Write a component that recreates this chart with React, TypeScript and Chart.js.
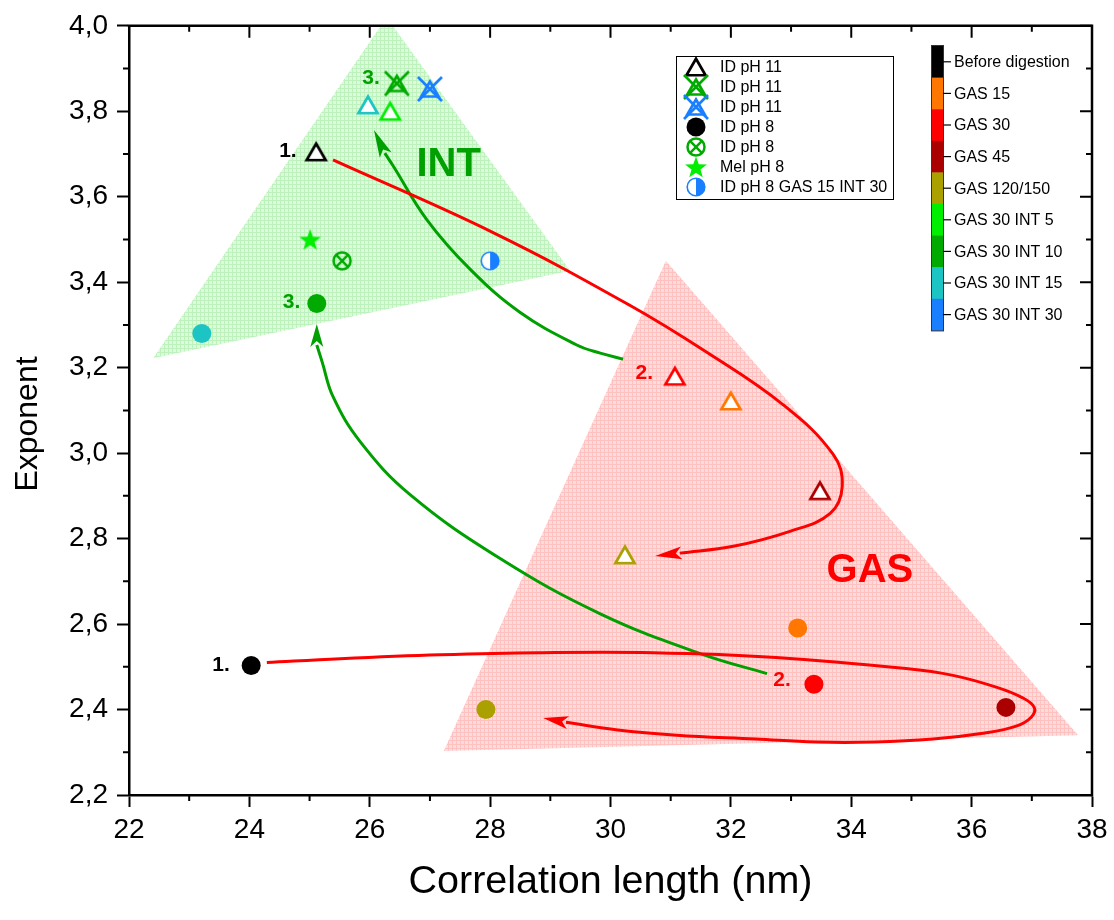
import React, { useEffect, useRef } from "react";
import { Chart, registerables } from "chart.js";

Chart.register(...registerables);

const FONT = "'Liberation Sans', Arial, Helvetica, sans-serif";

// ---------- axes ----------
const xMin = 22;
const xMax = 38;
const xStep = 2;
const yMin = 2.2;
const yMax = 4.0;
const yStep = 0.2;
const xTitle = "Correlation length (nm)";
const yTitle = "Exponent";

// ---------- colour scale (digestion stage) ----------
const stageNames = [
  "Before digestion",
  "GAS 15",
  "GAS 30",
  "GAS 45",
  "GAS 120/150",
  "GAS 30 INT 5",
  "GAS 30 INT 10",
  "GAS 30 INT 15",
  "GAS 30 INT 30",
];
const stageColors = [
  "#000000",
  "#ff7700",
  "#ff0000",
  "#aa0000",
  "#aaa000",
  "#00ee00",
  "#00aa00",
  "#1cc4c4",
  "#1a7fff",
];

// ---------- series ----------
// ID pH 11 (open triangles)
const idPh11X = [25.11, 31.07, 32.0, 33.48, 30.24, 25.97, 26.34];
const idPh11Y = [3.705, 3.18, 3.122, 2.912, 2.762, 3.815, 3.8];
const idPh11Stage = [0, 2, 1, 3, 4, 7, 5];
// ID pH 11 (triangles with cross)
const idPh11XX = [26.45, 27.0];
const idPh11XY = [3.865, 3.852];
const idPh11XStage = [6, 8];
// ID pH 8 (filled circles)
const idPh8X = [24.03, 33.11, 33.38, 36.57, 27.93, 25.12, 23.21];
const idPh8Y = [2.503, 2.591, 2.459, 2.405, 2.4, 3.35, 3.28];
const idPh8Stage = [0, 1, 2, 3, 4, 6, 7];
// ID pH 8 (crossed circle)
const idPh8XX = [25.54];
const idPh8XY = [3.45];
const idPh8XStage = [6];
// Mel pH 8 (star)
const melX = [25.01];
const melY = [3.5];
const melStage = [5];
// ID pH 8 GAS 15 INT 30 (half circle)
const mixX = [28.0];
const mixY = [3.45];
const mixStage = [8];

// ---------- shaded regions ----------
const intRegionX = [22.4, 26.28, 29.33];
const intRegionY = [3.222, 4.02, 3.427];
const gasRegionX = [30.92, 37.77, 27.23];
const gasRegionY = [3.45, 2.34, 2.303];

// ---------- pathways (arrows) ----------
const redAX = [25.39, 28.05, 30.32, 31.6, 32.87, 33.7, 33.85, 33.65, 32.98, 32.04, 31.15];
const redAY = [3.686, 3.516, 3.346, 3.236, 3.113, 2.997, 2.922, 2.859, 2.817, 2.782, 2.766];
const redATip = [30.74, 2.759];

const redBX = [24.29, 25.51, 27.17, 28.81, 30.71, 32.75, 34.91, 35.69, 36.42, 36.84, 37.04, 36.99, 36.74, 36.22, 35.36, 34.38, 33.4, 32.42, 31.1, 30.12, 29.26];
const redBY = [2.51, 2.519, 2.528, 2.533, 2.533, 2.522, 2.496, 2.48, 2.452, 2.428, 2.405, 2.382, 2.361, 2.345, 2.331, 2.324, 2.324, 2.331, 2.34, 2.352, 2.37];
const redBTip = [28.88, 2.38];

const greenAX = [30.21, 29.83, 29.44, 28.5, 27.67, 26.95, 26.39, 26.25];
const greenAY = [3.22, 3.234, 3.253, 3.329, 3.43, 3.546, 3.672, 3.702];
const greenATip = [26.07, 3.756];

const greenBX = [32.6, 31.49, 29.83, 28.16, 26.67, 25.84, 25.39, 25.21, 25.12];
const greenBY = [2.484, 2.531, 2.624, 2.754, 2.903, 3.027, 3.132, 3.213, 3.253];
const greenBTip = [25.12, 3.302];

// ---------- annotations ----------
const noteText = ["1.", "1.", "2.", "2.", "3.", "3.", "INT", "GAS"];
const noteX = [24.64, 23.53, 30.56, 32.85, 26.02, 24.7, 27.31, 34.31];
const noteY = [3.707, 2.503, 3.187, 2.468, 3.877, 3.353, 3.674, 2.724];
const noteKind = [0, 0, 1, 1, 2, 2, 3, 4];

// ---------- legend ----------
const legendLabels = ["ID pH 11", "ID pH 11", "ID pH 11", "ID pH 8", "ID pH 8", "Mel pH 8", "ID pH 8 GAS 15 INT 30"];

// ===== styles =====
const noteStyles = [
  { color: "#000000", size: 21 },
  { color: "#ff0000", size: 21 },
  { color: "#00a000", size: 21 },
  { color: "#00a000", size: 40 },
  { color: "#ff0000", size: 40 },
];
const RED = "#ff0000";
const GREEN = "#00a000";

function makeCanvas(size: number) {
  const c = document.createElement("canvas");
  c.width = size;
  c.height = size;
  return c;
}

function triImage(color: string, withX: boolean) {
  const s = 30;
  const c = makeCanvas(s);
  const g = c.getContext("2d")!;
  const cx = s / 2;
  const cy = s / 2;
  const r = withX ? 10 : 11;
  g.lineWidth = 2.7;
  g.strokeStyle = color;
  g.beginPath();
  g.moveTo(cx, cy - 0.75 * r);
  g.lineTo(cx + 0.866 * r, cy + 0.75 * r);
  g.lineTo(cx - 0.866 * r, cy + 0.75 * r);
  g.closePath();
  if (!withX) {
    g.fillStyle = "#ffffff";
    g.fill();
  }
  g.stroke();
  if (withX) {
    const d = 12;
    g.beginPath();
    g.moveTo(cx - d, cy - d);
    g.lineTo(cx + d, cy + d);
    g.moveTo(cx + d, cy - d);
    g.lineTo(cx - d, cy + d);
    g.stroke();
  }
  return c;
}

function crossCircleImage(color: string) {
  const s = 26;
  const c = makeCanvas(s);
  const g = c.getContext("2d")!;
  const cx = s / 2;
  const cy = s / 2;
  const r = 8.5;
  g.lineWidth = 2.5;
  g.strokeStyle = color;
  g.beginPath();
  g.arc(cx, cy, r, 0, Math.PI * 2);
  g.stroke();
  const d = r * 0.707;
  g.beginPath();
  g.moveTo(cx - d, cy - d);
  g.lineTo(cx + d, cy + d);
  g.moveTo(cx + d, cy - d);
  g.lineTo(cx - d, cy + d);
  g.stroke();
  return c;
}

function starImage(color: string) {
  const s = 28;
  const c = makeCanvas(s);
  const g = c.getContext("2d")!;
  g.beginPath();
  for (let i = 0; i < 10; i++) {
    const r = i % 2 === 0 ? 11.5 : 4.7;
    const a = -Math.PI / 2 + (i * Math.PI) / 5;
    const px = s / 2 + r * Math.cos(a);
    const py = s / 2 + 1 + r * Math.sin(a);
    if (i === 0) g.moveTo(px, py);
    else g.lineTo(px, py);
  }
  g.closePath();
  g.fillStyle = color;
  g.fill();
  return c;
}

function halfImage(color: string) {
  const s = 24;
  const c = makeCanvas(s);
  const g = c.getContext("2d")!;
  const cx = s / 2;
  const cy = s / 2;
  const r = 8.8;
  g.beginPath();
  g.arc(cx, cy, r, 0, Math.PI * 2);
  g.fillStyle = "#ffffff";
  g.fill();
  g.beginPath();
  g.moveTo(cx, cy - r);
  g.arc(cx, cy, r, -Math.PI / 2, Math.PI / 2);
  g.closePath();
  g.fillStyle = color;
  g.fill();
  g.beginPath();
  g.arc(cx, cy, r, 0, Math.PI * 2);
  g.lineWidth = 1.6;
  g.strokeStyle = color;
  g.stroke();
  return c;
}

function hatch(bg: string, line: string) {
  const c = makeCanvas(4);
  const g = c.getContext("2d")!;
  g.fillStyle = bg;
  g.fillRect(0, 0, 4, 4);
  g.fillStyle = line;
  g.fillRect(0, 0, 4, 1);
  g.fillRect(0, 0, 1, 4);
  return c;
}

const pts = (xs: number[], ys: number[]) => xs.map((x, i) => ({ x, y: ys[i] }));

export default function App() {
  const ref = useRef<HTMLCanvasElement>(null);

  useEffect(() => {
    document.body.style.margin = "0";
    const canvas = ref.current!;
    const colorOf = (s: number) => stageColors[s];

    const triImgs = idPh11Stage.map((s) => triImage(colorOf(s), false));
    const triXImgs = idPh11XStage.map((s) => triImage(colorOf(s), true));
    const ccImgs = idPh8XStage.map((s) => crossCircleImage(colorOf(s)));
    const starImgs = melStage.map((s) => starImage(colorOf(s)));
    const halfImgs = mixStage.map((s) => halfImage(colorOf(s)));

    const legendImgs: (HTMLCanvasElement | string)[] = [
      triImage("#000000", false),
      triImage(stageColors[6], true),
      triImage(stageColors[8], true),
      "circle",
      crossCircleImage(stageColors[6]),
      starImage(stageColors[5]),
      halfImage(stageColors[8]),
    ];

    const pctx = canvas.getContext("2d")!;
    const greenFill = pctx.createPattern(hatch("#dcfbdc", "#bdf2bd"), "repeat")!;
    const redFill = pctx.createPattern(hatch("#ffdcdc", "#ffc0c0"), "repeat")!;

    const regions = [
      { xs: intRegionX, ys: intRegionY, fill: greenFill },
      { xs: gasRegionX, ys: gasRegionY, fill: redFill },
    ];
    const arrows = [
      { xs: redAX, ys: redAY, tip: redATip, color: RED },
      { xs: redBX, ys: redBY, tip: redBTip, color: RED },
      { xs: greenAX, ys: greenAY, tip: greenATip, color: GREEN },
      { xs: greenBX, ys: greenBY, tip: greenBTip, color: GREEN },
    ];

    const decor = {
      id: "decor",
      beforeDatasetsDraw(chart: any) {
        const { ctx, chartArea: a, scales } = chart;
        const sx = scales.x;
        const sy = scales.y;
        ctx.save();
        ctx.beginPath();
        ctx.rect(a.left, a.top, a.right - a.left, a.bottom - a.top);
        ctx.clip();
        for (const r of regions) {
          ctx.beginPath();
          r.xs.forEach((v, i) => {
            const px = sx.getPixelForValue(v);
            const py = sy.getPixelForValue(r.ys[i]);
            if (i === 0) ctx.moveTo(px, py);
            else ctx.lineTo(px, py);
          });
          ctx.closePath();
          ctx.fillStyle = r.fill;
          ctx.fill();
        }
        ctx.restore();
      },
      afterDatasetsDraw(chart: any) {
        const { ctx, scales } = chart;
        const sx = scales.x;
        const sy = scales.y;
        ctx.save();
        // arrow heads
        for (const ar of arrows) {
          const n = ar.xs.length - 1;
          const bx = sx.getPixelForValue(ar.xs[n]);
          const by = sy.getPixelForValue(ar.ys[n]);
          const tx = sx.getPixelForValue(ar.tip[0]);
          const ty = sy.getPixelForValue(ar.tip[1]);
          const L = Math.hypot(tx - bx, ty - by);
          const ux = (tx - bx) / L;
          const uy = (ty - by) / L;
          const nx = -uy;
          const ny = ux;
          const w = 6.5;
          ctx.beginPath();
          ctx.moveTo(tx, ty);
          ctx.lineTo(bx - ux * 2 + nx * w, by - uy * 2 + ny * w);
          ctx.lineTo(bx + ux * 4, by + uy * 4);
          ctx.lineTo(bx - ux * 2 - nx * w, by - uy * 2 - ny * w);
          ctx.closePath();
          ctx.fillStyle = ar.color;
          ctx.fill();
        }
        // notes
        ctx.textAlign = "center";
        ctx.textBaseline = "middle";
        noteText.forEach((t, i) => {
          const st = noteStyles[noteKind[i]];
          ctx.font = `bold ${st.size}px ${FONT}`;
          ctx.fillStyle = st.color;
          ctx.fillText(t, sx.getPixelForValue(noteX[i]), sy.getPixelForValue(noteY[i]));
        });
        ctx.restore();
      },
      afterDraw(chart: any) {
        const { ctx, chartArea: a, scales } = chart;
        const sx = scales.x;
        const sy = scales.y;
        ctx.save();
        // frame top/right
        ctx.strokeStyle = "#000";
        ctx.lineWidth = 2.5;
        ctx.beginPath();
        ctx.moveTo(a.left - 1.25, a.top);
        ctx.lineTo(a.right, a.top);
        ctx.lineTo(a.right, a.bottom + 1.25);
        ctx.stroke();
        ctx.lineWidth = 2;
        ctx.beginPath();
        const nx = Math.round((xMax - xMin) / (xStep / 2));
        for (let k = 0; k <= nx; k++) {
          const v = xMin + (k * xStep) / 2;
          const px = sx.getPixelForValue(v);
          const major = k % 2 === 0;
          const len = major ? 12 : 6;
          if (!major) {
            ctx.moveTo(px, a.bottom);
            ctx.lineTo(px, a.bottom + len);
          }
          ctx.moveTo(px, a.top);
          ctx.lineTo(px, a.top + len);
        }
        const ny = Math.round((yMax - yMin) / (yStep / 2));
        for (let k = 0; k <= ny; k++) {
          const v = yMin + (k * yStep) / 2;
          const py = sy.getPixelForValue(v);
          const major = k % 2 === 0;
          const len = major ? 12 : 6;
          if (!major) {
            ctx.moveTo(a.left, py);
            ctx.lineTo(a.left - len, py);
          }
          ctx.moveTo(a.right, py);
          ctx.lineTo(a.right - len, py);
        }
        ctx.stroke();

        // axis titles
        ctx.fillStyle = "#000";
        ctx.textAlign = "center";
        ctx.textBaseline = "alphabetic";
        ctx.font = `39.5px ${FONT}`;
        ctx.fillText(xTitle, (a.left + a.right) / 2, 893);
        ctx.save();
        ctx.translate(37, 424);
        ctx.rotate(-Math.PI / 2);
        ctx.font = `32px ${FONT}`;
        ctx.fillText(yTitle, 0, 0);
        ctx.restore();

        // legend box
        const lx = 676;
        const ly = 56;
        const lw = 217;
        const lh = 143;
        ctx.fillStyle = "#ffffff";
        ctx.fillRect(lx, ly, lw, lh);
        ctx.lineWidth = 1;
        ctx.strokeStyle = "#000";
        ctx.strokeRect(lx + 0.5, ly + 0.5, lw, lh);
        ctx.font = `16px ${FONT}`;
        ctx.textAlign = "left";
        ctx.textBaseline = "middle";
        legendLabels.forEach((lab, i) => {
          const cy = ly + 11 + i * 20;
          const img = legendImgs[i];
          if (typeof img === "string") {
            ctx.beginPath();
            ctx.arc(696, cy, 9.5, 0, Math.PI * 2);
            ctx.fillStyle = "#000";
            ctx.fill();
          } else {
            ctx.drawImage(img, 696 - img.width / 2, cy - img.height / 2);
          }
          ctx.fillStyle = "#000";
          ctx.fillText(lab, 720, cy + 1);
        });

        // colour bar
        const cbx = 932;
        const cby = 46;
        const cbw = 11;
        const seg = 31.6;
        stageColors.forEach((col, i) => {
          ctx.fillStyle = col;
          ctx.fillRect(cbx, cby + i * seg, cbw, seg + 0.5);
        });
        ctx.strokeStyle = "#333";
        ctx.lineWidth = 1;
        ctx.strokeRect(cbx - 0.5, cby - 0.5, cbw + 1, seg * stageColors.length + 1);
        ctx.font = `16px ${FONT}`;
        ctx.fillStyle = "#000";
        ctx.strokeStyle = "#000";
        ctx.lineWidth = 1.2;
        stageNames.forEach((nm, i) => {
          const cy = cby + (i + 0.5) * seg;
          ctx.beginPath();
          ctx.moveTo(cbx + cbw, cy);
          ctx.lineTo(cbx + cbw + 8, cy);
          ctx.stroke();
          ctx.fillText(nm, cbx + cbw + 11, cy + 1);
        });
        ctx.restore();
      },
    };

    const curve = (xs: number[], ys: number[], color: string) => ({
      data: pts(xs, ys),
      showLine: true,
      borderColor: color,
      borderWidth: 3,
      pointRadius: 0,
      tension: 0.4,
      fill: false,
    });

    const chart = new Chart(canvas, {
      type: "scatter",
      data: {
        datasets: [
          { data: pts(idPh11X, idPh11Y), pointStyle: triImgs as any, pointRadius: 11 },
          { data: pts(idPh11XX, idPh11XY), pointStyle: triXImgs as any, pointRadius: 12 },
          {
            data: pts(idPh8X, idPh8Y),
            pointStyle: "circle",
            pointRadius: 9.5,
            pointBackgroundColor: idPh8Stage.map(colorOf),
            pointBorderColor: idPh8Stage.map(colorOf),
            pointBorderWidth: 0,
          },
          { data: pts(idPh8XX, idPh8XY), pointStyle: ccImgs as any, pointRadius: 10 },
          { data: pts(melX, melY), pointStyle: starImgs as any, pointRadius: 10 },
          { data: pts(mixX, mixY), pointStyle: halfImgs as any, pointRadius: 10 },
          curve(redAX, redAY, RED),
          curve(redBX, redBY, RED),
          curve(greenAX, greenAY, GREEN),
          curve(greenBX, greenBY, GREEN),
        ] as any,
      },
      options: {
        responsive: false,
        animation: false,
        devicePixelRatio: 1,
        events: [],
        layout: { padding: { top: 22, right: 22, left: 0, bottom: 0 } },
        plugins: { legend: { display: false }, tooltip: { enabled: false } },
        scales: {
          x: {
            type: "linear",
            min: xMin,
            max: xMax,
            afterFit: (s: any) => {
              s.height = 125;
            },
            ticks: {
              stepSize: xStep,
              padding: 6,
              color: "#000",
              font: { family: FONT, size: 28 },
              callback: (v: any) => String(Math.round(Number(v))),
            },
            grid: {
              display: true,
              drawOnChartArea: false,
              drawTicks: true,
              tickLength: 12,
              tickWidth: 2,
              tickColor: "#000",
            },
            border: { display: true, color: "#000", width: 2.5 },
            title: { display: false },
          },
          y: {
            type: "linear",
            min: yMin,
            max: yMax,
            afterFit: (s: any) => {
              s.width = 129;
            },
            ticks: {
              stepSize: yStep,
              padding: 9,
              color: "#000",
              font: { family: FONT, size: 28 },
              callback: (v: any) => Number(v).toFixed(1).replace(".", ","),
            },
            grid: {
              display: true,
              drawOnChartArea: false,
              drawTicks: true,
              tickLength: 12,
              tickWidth: 2,
              tickColor: "#000",
            },
            border: { display: true, color: "#000", width: 2.5 },
            title: { display: false },
          },
        },
      } as any,
      plugins: [decor],
    });

    return () => chart.destroy();
  }, []);

  return (
    <div style={{ width: 1114, height: 920 }}>
      <canvas ref={ref} width={1114} height={920} style={{ display: "block", width: 1114, height: 920 }} />
    </div>
  );
}
